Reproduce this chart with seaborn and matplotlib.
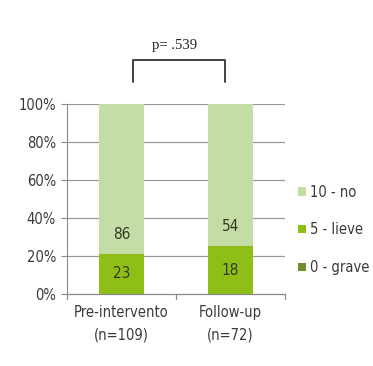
import matplotlib
matplotlib.use("Agg")
import matplotlib.pyplot as plt
import seaborn as sns
import pandas as pd
from matplotlib.patches import Patch
from matplotlib.lines import Line2D

categories = ["Pre-intervento\n(n=109)", "Follow-up\n(n=72)"]
grave = [0, 0]      # 0 - grave
lieve = [23, 18]    # 5 - lieve
no = [86, 54]       # 10 - no
series_labels = ["10 - no", "5 - lieve", "0 - grave"]
y_ticks = [0, 20, 40, 60, 80, 100]
p_text = "p= .539"

col_no = "#c4dca6"
col_lieve = "#8fbf16"
col_grave = "#6f8f2c"
txt_col = "#2e3a22"

sns.set_theme(style="white")
plt.rcParams["font.family"] = ["DejaVu Sans"]

totals = [g + l + n for g, l, n in zip(grave, lieve, no)]
df = pd.DataFrame({
    "cat": categories,
    "grave": [100 * g / t for g, t in zip(grave, totals)],
    "lieve": [100 * l / t for l, t in zip(lieve, totals)],
    "no": [100 * n / t for n, t in zip(no, totals)],
})
df["cum_lieve"] = df["grave"] + df["lieve"]
df["cum_no"] = df["cum_lieve"] + df["no"]

fig = plt.figure(figsize=(3.73, 3.66), dpi=100)
ax = fig.add_axes([0.18, 0.197, 0.584, 0.519])

bw = 0.41
sns.barplot(data=df, x="cat", y="cum_no", color=col_no, width=bw,
            saturation=1, linewidth=0, ax=ax, zorder=2)
sns.barplot(data=df, x="cat", y="cum_lieve", color=col_lieve, width=bw,
            saturation=1, linewidth=0, ax=ax, zorder=3)
sns.barplot(data=df, x="cat", y="grave", color=col_grave, width=bw,
            saturation=1, linewidth=0, ax=ax, zorder=4)

fs = 10.5
for i, row in df.iterrows():
    ax.text(i, row["grave"] + row["lieve"] / 2, str(lieve[i]), ha="center",
            va="center", fontsize=11, color=txt_col, fontstretch="condensed",
            zorder=5)
    ax.annotate(str(no[i]), (i, row["cum_lieve"]), xytext=(0, 14),
                textcoords="offset points", ha="center", va="center",
                fontsize=11, color=txt_col, fontstretch="condensed", zorder=5)

ax.set_xlim(-0.5, 1.5)
ax.set_ylim(0, 100)
ax.set_yticks(y_ticks)
ax.set_yticklabels([f"{v}%" for v in y_ticks], fontsize=fs, color="#3a3a3a",
                   fontstretch="condensed")
ax.set_xticks([0, 1])
ax.set_xticklabels(categories, fontsize=fs, color="#3a3a3a",
                   fontstretch="condensed", linespacing=1.6)
ax.tick_params(axis="x", length=0, pad=8)
ax.tick_params(axis="y", length=4, width=0.8, color="#8a8a8a", pad=4, left=True)
ax.set_xlabel("")
ax.set_ylabel("")

for y in y_ticks[1:]:
    ax.axhline(y, color="#9a9a9a", lw=0.9, zorder=1)
for s in ["top", "right", "bottom"]:
    ax.spines[s].set_visible(False)
ax.spines["left"].set_color("#8a8a8a")
ax.spines["left"].set_linewidth(0.8)
ax.axhline(0, color="#8a8a8a", lw=0.9, zorder=6, clip_on=False)
for xb in [-0.5, 0.5, 1.5]:
    ax.add_line(Line2D([xb, xb], [0, -2.5], color="#8a8a8a", lw=0.9,
                       clip_on=False))

handles = [Patch(facecolor=col_no, edgecolor="none"),
           Patch(facecolor=col_lieve, edgecolor="none"),
           Patch(facecolor=col_grave, edgecolor="none")]
fig.legend(handles, series_labels, loc="upper left",
           bbox_to_anchor=(0.80, 0.495), frameon=False,
           prop={"size": fs, "stretch": "condensed"}, labelcolor="#3a3a3a",
           handlelength=0.5, handleheight=0.5, handletextpad=0.3,
           labelspacing=1.55, borderaxespad=0, borderpad=0)

# significance bracket between the two groups
fig.add_artist(Line2D([133 / 373, 133 / 373, 225 / 373, 225 / 373],
                      [1 - 82 / 366, 1 - 60 / 366, 1 - 60 / 366, 1 - 82 / 366],
                      color="#333333", lw=1.3))
fig.text(175 / 373, 1 - 45 / 366, p_text, ha="center", va="center",
         fontsize=10.5, family="Liberation Serif", color="#222222")

fig.savefig("out.png", dpi=100)
